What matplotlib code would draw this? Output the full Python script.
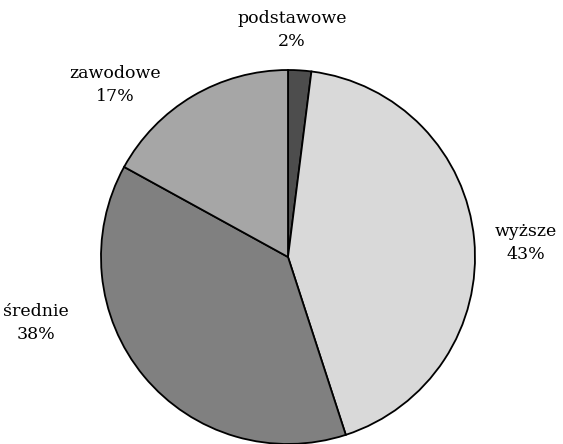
import matplotlib
matplotlib.use("Agg")
import matplotlib.pyplot as plt

labels = ["podstawowe", "wyższe", "średnie", "zawodowe"]
shares = [2, 43, 38, 17]
colors = ["#4d4d4d", "#d9d9d9", "#808080", "#a6a6a6"]

# label anchor points in pixel space (x from left, y from top)
label_pos = [(292, 30), (526, 243), (36, 323), (115, 85)]

W, H = 563, 444
fig = plt.figure(figsize=(W / 100, H / 100), dpi=100)
ax = fig.add_axes([0, 0, 1, 1])

cx, cy, r = 288, H - 257, 187
ax.pie(shares, colors=colors, startangle=90, counterclock=False,
       center=(cx, cy), radius=r, frame=True,
       wedgeprops=dict(edgecolor="black", linewidth=1.3))
ax.set_xlim(0, W)
ax.set_ylim(0, H)
ax.set_aspect("equal")
ax.axis("off")

for lab, val, (x, y) in zip(labels, shares, label_pos):
    ax.text(x, H - y, f"{lab}\n{val}%", ha="center", va="center",
            fontsize=12.5, family="DejaVu Serif", linespacing=1.45)

fig.savefig("out.png", dpi=100)
